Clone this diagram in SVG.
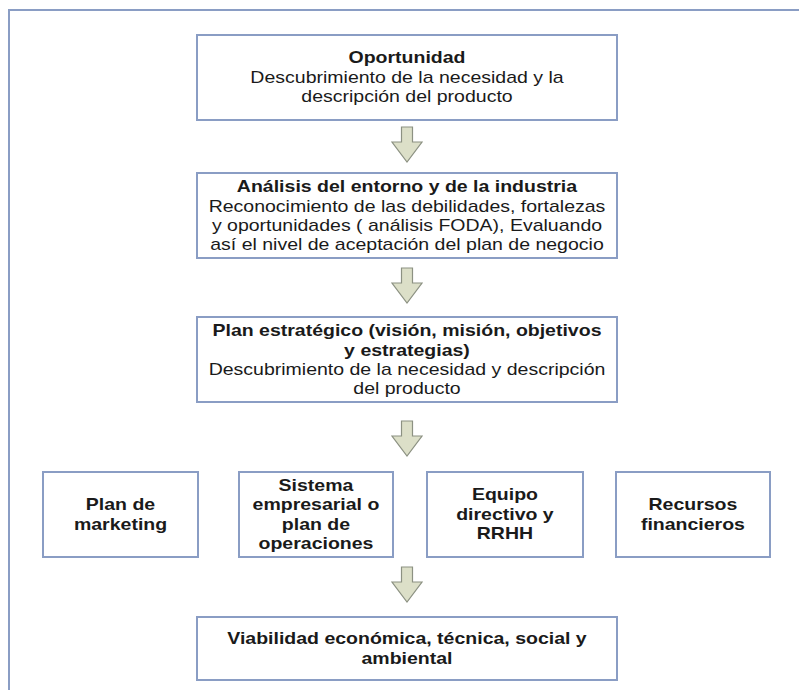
<svg xmlns="http://www.w3.org/2000/svg" width="799" height="690" viewBox="0 0 799 690">
<style>
.box{fill:#ffffff;stroke:#8a9dc4;stroke-width:2}
.frame{fill:none;stroke:#8a9dc4;stroke-width:2}
.arrow{fill:#dcdfc8;stroke:#8c9182;stroke-width:1.2;stroke-linejoin:miter}
text{font-family:"Liberation Sans",Arial,sans-serif;font-size:16px;fill:#1a1a1a;text-anchor:middle}
.b{font-weight:bold}
</style>
<defs>
<path id="arr" d="M-5.5,0 H5.5 V15 H15 L0,35 L-15,15 H-5.5 Z"/>
</defs>
<rect x="0" y="0" width="799" height="690" fill="#ffffff"/>
<rect class="frame" x="9" y="10" width="820" height="720"/>
<g id="connectors">
<use href="#arr" class="arrow" x="407" y="127"/>
<use href="#arr" class="arrow" x="407" y="268"/>
<use href="#arr" class="arrow" x="407" y="421"/>
<use href="#arr" class="arrow" x="407" y="567"/>
</g>
<g id="oportunidad">
<rect class="box" x="197" y="35" width="420" height="85"/>
<g transform="scale(1.22 1)">
<text class="b" x="333.6" y="63.5">Oportunidad</text>
<text x="333.6" y="83">Descubrimiento de la necesidad y la</text>
<text x="333.6" y="102.3">descripción del producto</text>
</g>
</g>
<g id="analisis">
<rect class="box" x="197" y="173" width="420" height="85"/>
<g transform="scale(1.22 1)">
<text class="b" x="333.6" y="192.5">Análisis del entorno y de la industria</text>
<text x="333.6" y="211.8">Reconocimiento de las debilidades, fortalezas</text>
<text x="333.6" y="231">y oportunidades ( análisis FODA), Evaluando</text>
<text x="333.6" y="250.3">así el nivel de aceptación del plan de negocio</text>
</g>
</g>
<g id="plan-estrategico">
<rect class="box" x="197" y="317" width="420" height="85"/>
<g transform="scale(1.22 1)">
<text class="b" x="333.6" y="336.5">Plan estratégico (visión, misión, objetivos</text>
<text class="b" x="333.6" y="355.8">y estrategias)</text>
<text x="333.6" y="375">Descubrimiento de la necesidad y descripción</text>
<text x="333.6" y="394.3">del producto</text>
</g>
</g>
<g id="plan-marketing">
<rect class="box" x="43" y="472" width="155" height="85"/>
<g transform="scale(1.22 1)">
<text class="b" x="98.8" y="510.5">Plan de</text>
<text class="b" x="98.8" y="529.8">marketing</text>
</g>
</g>
<g id="sistema-empresarial">
<rect class="box" x="239" y="472" width="154" height="85"/>
<g transform="scale(1.22 1)">
<text class="b" x="259" y="491">Sistema</text>
<text class="b" x="259" y="510.5">empresarial o</text>
<text class="b" x="259" y="529.8">plan de</text>
<text class="b" x="259" y="549">operaciones</text>
</g>
</g>
<g id="equipo-directivo">
<rect class="box" x="427" y="472" width="156" height="85"/>
<g transform="scale(1.22 1)">
<text class="b" x="413.9" y="500.5">Equipo</text>
<text class="b" x="413.9" y="520">directivo y</text>
<text class="b" x="413.9" y="539">RRHH</text>
</g>
</g>
<g id="recursos-financieros">
<rect class="box" x="616" y="472" width="154" height="85"/>
<g transform="scale(1.22 1)">
<text class="b" x="568" y="510.5">Recursos</text>
<text class="b" x="568" y="529.8">financieros</text>
</g>
</g>
<g id="viabilidad">
<rect class="box" x="197" y="617" width="420" height="63"/>
<g transform="scale(1.22 1)">
<text class="b" x="333.6" y="644.5">Viabilidad económica, técnica, social y</text>
<text class="b" x="333.6" y="663.8">ambiental</text>
</g>
</g>
</svg>
